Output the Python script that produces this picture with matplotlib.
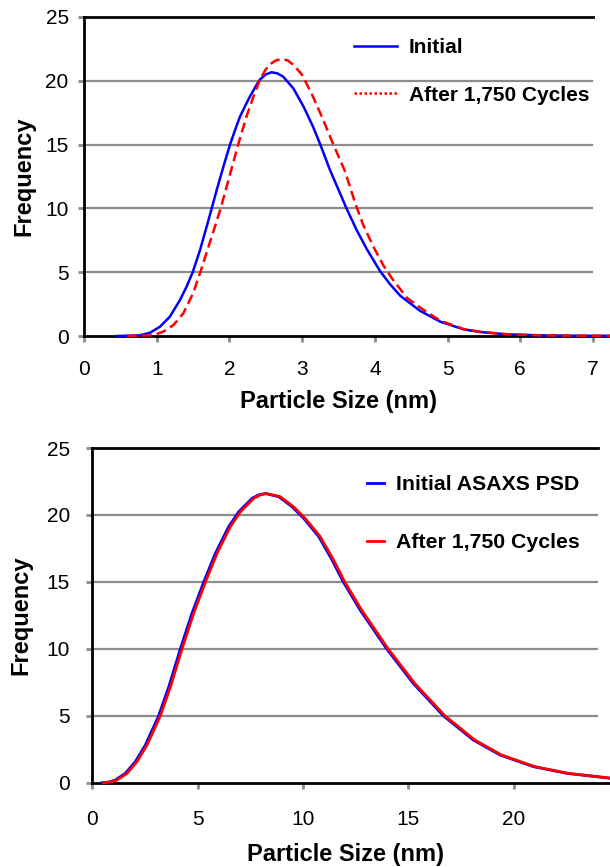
import matplotlib
matplotlib.use("Agg")
import matplotlib.pyplot as plt
from matplotlib.lines import Line2D

FONT = "Liberation Sans"

# ---------------- data ----------------
top_initial_x = [0.45, 0.77, 0.91, 1.045, 1.18, 1.32, 1.41, 1.495, 1.596, 1.687, 1.756, 1.825,
                 1.916, 2.008, 2.10, 2.146, 2.24, 2.28, 2.375, 2.42, 2.50, 2.58, 2.66, 2.74,
                 2.88, 3.02, 3.15, 3.25, 3.38, 3.52, 3.61, 3.75, 3.89, 4.07, 4.21, 4.35,
                 4.62, 4.90, 5.22, 5.45, 5.81, 6.27, 6.80, 7.40]
top_initial_y = [0.00, 0.05, 0.26, 0.73, 1.51, 2.82, 3.86, 5.00, 6.74, 8.57, 10.0, 11.44,
                 13.25, 15.0, 16.5, 17.2, 18.3, 18.75, 19.7, 20.1, 20.5, 20.67, 20.58, 20.32,
                 19.4, 17.97, 16.4, 15.0, 13.05, 11.2, 10.0, 8.3, 6.8, 5.1, 4.05, 3.15,
                 1.98, 1.12, 0.52, 0.31, 0.13, 0.05, 0.02, 0.01]

top_after_x = [0.59, 0.95, 1.09, 1.23, 1.366, 1.50, 1.60, 1.69, 1.78, 1.88, 2.00, 2.12, 2.24,
               2.33, 2.42, 2.50, 2.56, 2.64, 2.72, 2.80, 2.88, 2.995, 3.13, 3.27, 3.43,
               3.59, 3.73, 3.84, 3.98, 4.12, 4.25, 4.44, 4.67, 4.90, 5.22, 5.45, 5.81,
               6.27, 6.80, 7.40]
top_after_y = [0.00, 0.05, 0.34, 0.86, 1.78, 3.34, 5.0, 6.6, 8.2, 10.0, 12.5, 15.0, 17.3,
               18.75, 20.1, 20.9, 21.3, 21.6, 21.7, 21.6, 21.25, 20.5, 19.0, 17.2, 15.0,
               12.9, 10.4, 8.7, 7.0, 5.5, 4.4, 3.0, 2.04, 1.2, 0.55, 0.33, 0.14,
               0.05, 0.02, 0.01]

bot_initial_x = [0.46, 0.80, 1.09, 1.57, 2.04, 2.52, 3.15, 3.63, 4.18, 4.73, 5.29, 5.84, 6.47,
                 6.95, 7.58, 7.90, 8.21, 8.85, 9.48, 10.03, 10.75, 11.38, 11.91, 12.71, 13.97,
                 15.23, 16.66, 18.08, 19.35, 20.93, 22.52, 24.60]
bot_initial_y = [0.00, 0.05, 0.20, 0.70, 1.57, 2.82, 5.00, 7.17, 10.0, 12.65, 15.0, 17.13, 19.12,
                 20.24, 21.24, 21.5, 21.6, 21.36, 20.61, 19.75, 18.37, 16.63, 15.0, 12.9, 10.0,
                 7.42, 5.0, 3.19, 2.07, 1.2, 0.7, 0.33]

bot_after_x = [0.54, 0.88, 1.17, 1.65, 2.12, 2.60, 3.23, 3.71, 4.26, 4.81, 5.37, 5.92, 6.55,
               7.03, 7.66, 7.98, 8.28, 8.92, 9.55, 10.10, 10.82, 11.45, 11.98, 12.78, 14.04,
               15.30, 16.73, 18.15, 19.42, 21.00, 22.59, 24.67]
bot_after_y = [0.00, 0.05, 0.20, 0.70, 1.57, 2.82, 5.00, 7.17, 10.0, 12.65, 15.0, 17.13, 19.12,
               20.24, 21.24, 21.5, 21.6, 21.36, 20.61, 19.75, 18.37, 16.63, 15.0, 12.9, 10.0,
               7.42, 5.0, 3.19, 2.07, 1.2, 0.7, 0.33]

top_labels = ["Initial", "After 1,750 Cycles"]
bot_labels = ["Initial ASAXS PSD", "After 1,750 Cycles"]

BLUE = "#0000ff"
RED = "#ff0000"
GRID = "#8c8c8c"

fig = plt.figure(figsize=(6.10, 8.67), dpi=100)

def style_axes(ax, xmax, xticks, yticks, tick_pad_x, tick_pad_y, ylabelpad, xlabelpad):
    ax.set_xlim(0, xmax)
    ax.set_ylim(0, 25)
    ax.spines["right"].set_visible(False)
    ax.spines["bottom"].set_visible(False)
    ax.spines["left"].set_linewidth(2.0)
    ax.spines["top"].set_linewidth(2.0)
    ax.set_xticks(xticks)
    ax.set_yticks(yticks)
    ax.tick_params(axis="both", direction="out", length=4, width=2, color=GRID,
                   labelsize=15)
    ax.tick_params(axis="x", pad=tick_pad_x)
    ax.tick_params(axis="y", pad=tick_pad_y)
    for lab in ax.get_xticklabels() + ax.get_yticklabels():
        lab.set_fontfamily(FONT)
    for yv in [5, 10, 15, 20]:
        ax.axhline(yv, color=GRID, lw=1.6, zorder=1)
    ax.set_ylabel("Frequency", fontsize=17, fontweight="bold", family=FONT,
                  labelpad=ylabelpad)
    ax.set_xlabel("Particle Size (nm)", fontsize=17, fontweight="bold", family=FONT,
                  labelpad=xlabelpad)

# ---------------- top chart ----------------
ax1 = fig.add_axes([84 / 610, 1 - 336 / 867, 509 / 610, 319 / 867])
style_axes(ax1, 7, range(0, 8), range(0, 30, 5), 13, 7, 7, 8)
ax1.plot([0, 7.4], [0, 0], color="black", lw=2.0, clip_on=False, zorder=2)
ax1.plot(top_initial_x, top_initial_y, color=BLUE, lw=1.8, clip_on=False, zorder=3,
         solid_joinstyle="round")
ax1.plot(top_after_x, top_after_y, color=RED, lw=1.8, dashes=(4, 2), clip_on=False, zorder=4)
h1 = [Line2D([], [], color=BLUE, lw=1.8),
      Line2D([], [], color=RED, lw=1.8, dashes=(1, 1))]
fig.legend(h1, top_labels, loc="upper left", bbox_to_anchor=(354 / 610, 1 - 38 / 867),
           frameon=False, borderpad=0, borderaxespad=0, handlelength=2.07,
           handletextpad=0.55, labelspacing=1.37,
           prop={"family": FONT, "weight": "bold", "size": 15})

# ---------------- bottom chart ----------------
ax2 = fig.add_axes([92.3 / 610, 1 - 782.7 / 867, 505.7 / 610, 334.7 / 867])
style_axes(ax2, 24, range(0, 25, 5), range(0, 30, 5), 16, 12, 10, 10)
ax2.plot([0, 25], [0, 0], color="black", lw=2.0, clip_on=False, zorder=2)
ax2.plot(bot_initial_x, bot_initial_y, color=BLUE, lw=2.0, clip_on=False, zorder=3,
         solid_joinstyle="round")
ax2.plot(bot_after_x, bot_after_y, color=RED, lw=2.0, clip_on=False, zorder=4,
         solid_joinstyle="round")
h2 = [Line2D([], [], color=BLUE, lw=2.0), Line2D([], [], color=RED, lw=2.0)]
fig.legend(h2, bot_labels, loc="upper left", bbox_to_anchor=(367 / 610, 1 - 475 / 867),
           frameon=False, borderpad=0, borderaxespad=0, handlelength=0.82,
           handletextpad=0.53, labelspacing=1.85,
           prop={"family": FONT, "weight": "bold", "size": 15.3})

fig.savefig("out.png", dpi=100)
